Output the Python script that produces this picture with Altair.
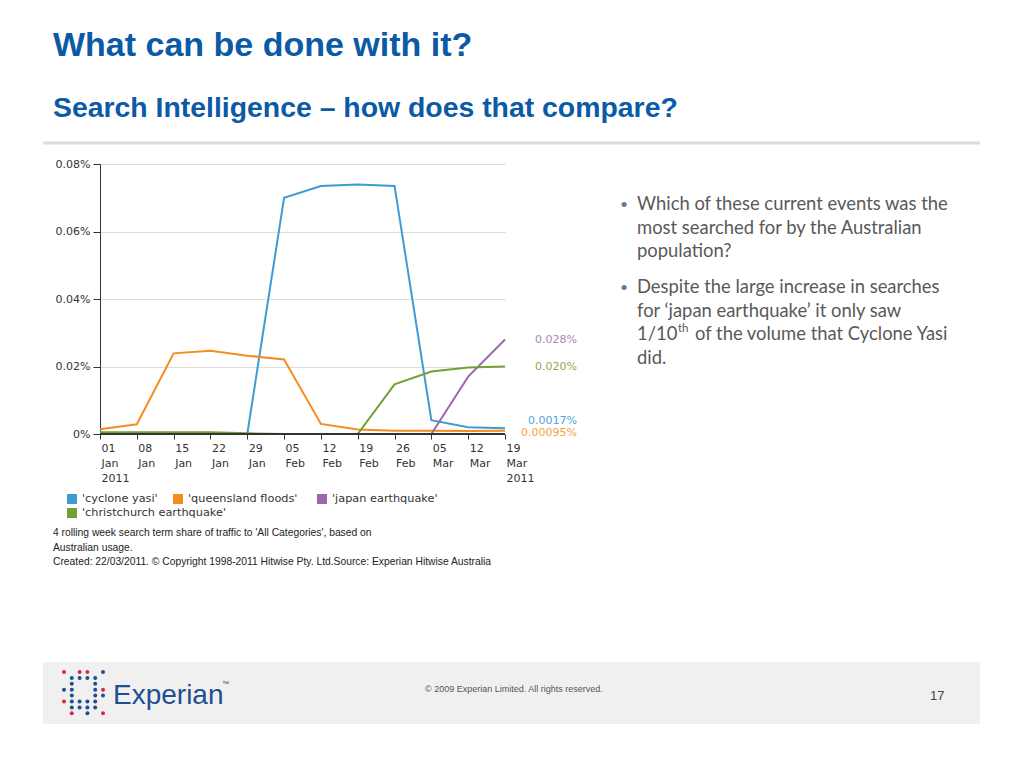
import altair as alt
import pandas as pd

# ---------------- data ----------------
dates = ["01 Jan 2011", "08 Jan", "15 Jan", "22 Jan", "29 Jan", "05 Feb",
         "12 Feb", "19 Feb", "26 Feb", "05 Mar", "12 Mar", "19 Mar 2011"]
series = ["'cyclone yasi'", "'queensland floods'", "'japan earthquake'",
          "'christchurch earthquake'"]
colors = ["#3f9cd3", "#f68b1f", "#9b69a8", "#72a035"]
label_colors = ["#4ea6da", "#f7a13e", "#a887b8", "#8bac53"]

cyclone = [0, 0, 0, 0, 0, 0.0700, 0.0735, 0.0739, 0.0735, 0.0041, 0.0020, 0.0017]
floods = [0.0014, 0.0029, 0.0239, 0.0247, 0.0232, 0.0221, 0.0030, 0.0013,
          0.0010, 0.0010, 0.0009, 0.00095]
japan = [0, 0, 0, 0, 0, 0, 0, 0, 0, 0, 0.0170, 0.0280]
christchurch = [0.0005, 0.0005, 0.0005, 0.0005, 0.0002, 0, 0, 0, 0.0147,
                0.0185, 0.0197, 0.0200]
end_labels = ["0.0017%", "0.00095%", "0.028%", "0.020%"]
y_ticks = [0, 0.02, 0.04, 0.06, 0.08]

values = [cyclone, floods, japan, christchurch]
rows = []
for s, vals in zip(series, values):
    for d, v in zip(dates, vals):
        rows.append({"date": d, "series": s, "share": v})
df = pd.DataFrame(rows)

ends = pd.DataFrame({
    "date": [dates[-1]] * 4,
    "series": series,
    "share": [v[-1] for v in values],
    "label": end_labels,
    "lcolor": label_colors,
})

# Experian logo dot pattern (R = red, B = blue)
logo_pattern = [
    "R.RR.B",
    ".BBBB.",
    ".B..B.",
    "BB..BR",
    ".B..BB",
    "RBBBB.",
    ".BBBB.",
    ".R.B.R",
]
dots = []
for r, line in enumerate(logo_pattern):
    for c, ch in enumerate(line):
        if ch != ".":
            dots.append({"px": -36 + 7.8 * c, "py": 508 + 5.9 * r,
                         "col": "#d9264f" if ch == "R" else "#1d4f91"})
dots = pd.DataFrame(dots)

# ---------------- chart ----------------
W, H = 405, 270
AXFONT = "DejaVu Sans"
GRID = "#dcdcdc"

x_enc = alt.X("date:O", sort=dates, scale=alt.Scale(type="point", padding=0),
              axis=alt.Axis(title=None, labelAngle=0, labelAlign="left",
                            labelBaseline="top", labelExpr="split(datum.label, ' ')",
                            labelLineHeight=15, labelPadding=3, labelOffset=1,
                            tickSize=5, tickColor="#333", domain=False,
                            gridColor=GRID, labelFont=AXFONT, labelFontSize=11,
                            labelColor="#333", labelOverlap=False))
y_enc = alt.Y("share:Q", scale=alt.Scale(domain=[0, 0.08]),
              axis=alt.Axis(title=None, values=y_ticks,
                            labelExpr="datum.value == 0 ? '0%' : format(datum.value, '.2f') + '%'",
                            domainColor="#333", tickColor="#333", tickSize=7,
                            labelFont=AXFONT, labelFontSize=11, labelColor="#333",
                            gridColor=GRID, labelPadding=3))

lines = alt.Chart(df).mark_line(strokeWidth=2).encode(
    x=x_enc, y=y_enc,
    color=alt.Color("series:N", scale=alt.Scale(domain=series, range=colors),
                    legend=None),
)

baseline = alt.Chart(alt.Data(values=[{"a": 1}])).mark_rule(
    color="#333", strokeWidth=2).encode(y=alt.datum(0))


def end_text(names, dy):
    return alt.Chart(ends).transform_filter(
        alt.FieldOneOfPredicate(field="series", oneOf=names)
    ).mark_text(align="right", baseline="middle", dx=72, dy=dy,
                font=AXFONT, fontSize=11).encode(
        x=alt.X("date:O", sort=dates), y="share:Q", text="label:N",
        color=alt.Color("lcolor:N", scale=None))


blank = alt.Data(values=[{"a": 1}])


def txt(s, x, y, size, color, font, weight="normal", align="left", lh=None,
        baseline="alphabetic"):
    kw = dict(align=align, baseline=baseline, fontSize=size, color=color,
              font=font, fontWeight=weight)
    if lh:
        kw.update(lineBreak="\n", lineHeight=lh)
    return alt.Chart(blank).mark_text(**kw).encode(
        x=alt.value(x), y=alt.value(y), text=alt.value(s))


def legend_entry(name, color, x, y):
    sq = alt.Chart(blank).mark_square(size=100, color=color, opacity=1).encode(
        x=alt.value(x + 5), y=alt.value(y))
    lab = txt(name, x + 15, y, 11.3, "#333333", AXFONT, baseline="middle")
    return [sq, lab]


TITLE_FONT = "Liberation Sans, Arial"
BLUE = "#0b5aa6"
BODY = "Lato, sans-serif"
GREYTXT = "#595959"
BSIZE = 18.4

footer_bg = alt.Chart(blank).mark_rect(color="#f0f0f0").encode(
    x=alt.value(-57), x2=alt.value(880), y=alt.value(498), y2=alt.value(560))
sep = alt.Chart(blank).mark_rule(color="#dcdcdc", strokeWidth=3).encode(
    x=alt.value(-57), x2=alt.value(880), y=alt.value(-21))

logo = alt.Chart(dots).mark_circle(size=16, opacity=1).encode(
    x=alt.X("px:Q", scale=None), y=alt.Y("py:Q", scale=None),
    color=alt.Color("col:N", scale=None))

legend_pos = [(-33, 335), (73, 335), (217, 335), (-33, 349)]
legend_layers = []
for name, col, (lx, ly) in zip(series, colors, legend_pos):
    legend_layers += legend_entry(name, col, lx, ly)

layers = [
    footer_bg, sep,
    lines, baseline,
    end_text(["'japan earthquake'", "'christchurch earthquake'"], 0),
    end_text(["'cyclone yasi'"], -7),
    end_text(["'queensland floods'"], 2),
    *legend_layers,
    txt("What can be done with it?", -47, -108, 34, BLUE, TITLE_FONT, "bold"),
    txt("Search Intelligence \u2013 how does that compare?", -47, -47, 28.4, BLUE,
        TITLE_FONT, "bold"),
    txt("\u2022", 520, 45, 14, "#777777", BODY),
    txt("Which of these current events was the\nmost searched for by the Australian\npopulation?",
        537, 46, BSIZE, GREYTXT, BODY, lh=23.5),
    txt("\u2022", 520, 128, 14, "#777777", BODY),
    txt("Despite the large increase in searches\nfor \u2018japan earthquake\u2019 it only saw",
        537, 129, BSIZE, GREYTXT, BODY, lh=23.5),
    txt("1/10", 537, 176, BSIZE, GREYTXT, BODY),
    txt("th", 578, 168, 11.5, GREYTXT, BODY),
    txt("of the volume that Cyclone Yasi", 595, 176, BSIZE, GREYTXT, BODY),
    txt("did.", 537, 200, BSIZE, GREYTXT, BODY),
    txt("4 rolling week search term share of traffic to 'All Categories', based on\nAustralian usage.\nCreated: 22/03/2011. \u00a9 Copyright 1998-2011 Hitwise Pty. Ltd.Source: Experian Hitwise Australia",
        -47, 372, 10.3, "#222222", "Liberation Sans", lh=14.5),
    logo,
    txt("Experian", 13, 540, 28, "#1d4f91", "Liberation Sans"),
    txt("\u2122", 122, 522, 7, "#1d4f91", "Liberation Sans"),
    txt("\u00a9 2009 Experian Limited.  All rights reserved.", 325, 528, 9, "#555555",
        "Liberation Sans"),
    txt("17", 830, 536, 13, "#444444", "Liberation Sans"),
]

chart = alt.layer(*layers).properties(
    width=W, height=H,
    autosize=alt.AutoSizeParams(type="none"),
    padding={"left": 92, "top": 156, "right": 503, "bottom": 324},
    background="white",
).configure_view(strokeWidth=0)

chart.save("out.html", embed_options={"renderer": "svg", "actions": False})
